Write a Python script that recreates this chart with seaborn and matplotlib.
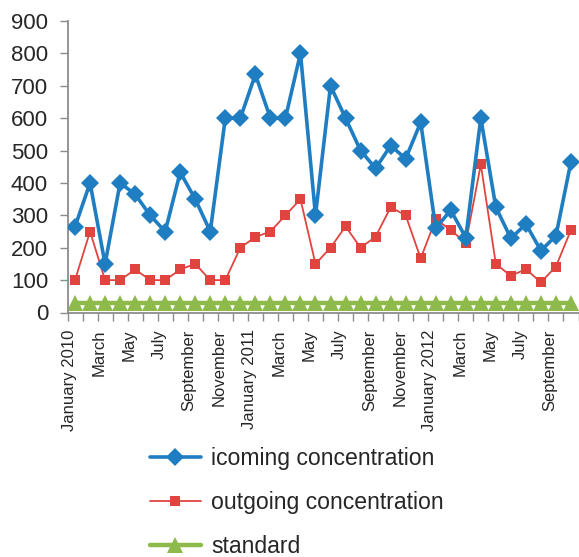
import numpy as np
import pandas as pd
import matplotlib
matplotlib.use("Agg")
import matplotlib.pyplot as plt
import matplotlib.transforms as mtransforms
import seaborn as sns

sns.set_style("white")
plt.rcParams["font.family"] = ["Liberation Sans", "DejaVu Sans"]

# Monthly series, January 2010 .. October 2012
months = pd.date_range("2010-01-01", "2012-10-01", freq="MS")
incoming = [265, 400, 150, 400, 365, 300, 250, 433, 350, 250, 600, 600,
            735, 600, 600, 800, 300, 700, 600, 500, 445, 515, 475, 587,
            260, 316, 231, 600, 325, 229, 273, 191, 237, 466]
outgoing = [100, 250, 100, 100, 133, 100, 100, 133, 150, 100, 100, 200,
            233, 250, 300, 350, 150, 200, 266, 200, 234, 325, 300, 167,
            288, 255, 214, 457, 150, 113, 134, 93, 142, 255]
standard = [30] * len(months)

month_names = ["January", "February", "March", "April", "May", "June", "July",
               "August", "September", "October", "November", "December"]
tick_labels = [(f"January {d.year}" if d.month == 1 else month_names[d.month - 1])
               for d in months[::2]]

pos = np.arange(len(months))
df = pd.DataFrame({"pos": pos, "incoming": incoming,
                   "outgoing": outgoing, "standard": standard})

fig = plt.figure(figsize=(5.79, 5.57), dpi=100)
ax = fig.add_axes([67.5 / 579, (557 - 312.5) / 557, 511 / 579, 291.5 / 557])

blue = "#1f7dc1"
red = "#e0443f"
green = "#8dba4a"

sns.lineplot(data=df, x="pos", y="standard", ax=ax, color=green, lw=3.2,
             marker="^", markersize=11, markeredgewidth=0,
             label="standard", zorder=2)
sns.lineplot(data=df, x="pos", y="outgoing", ax=ax, color=red, lw=1.3,
             marker="s", markersize=7, markeredgewidth=0,
             label="outgoing concentration", zorder=3)
sns.lineplot(data=df, x="pos", y="incoming", ax=ax, color=blue, lw=2.6,
             marker="D", markersize=9, markeredgewidth=0,
             label="icoming concentration", zorder=4)

ax.set_xlim(-0.5, len(months) - 0.5)
ax.set_ylim(0, 900)
ax.set_yticks(np.arange(0, 901, 100))
ax.set_xlabel("")
ax.set_ylabel("")

ax.set_xticks(pos[::2])
ax.set_xticklabels(tick_labels, rotation=90, fontsize=12, va="top")
ax.set_xticks(np.arange(-0.5, len(months)), minor=True)
ax.tick_params(axis="x", which="major", length=0, pad=12)
ax.tick_params(axis="x", which="minor", length=6, width=1, color="#8c8c8c",
               direction="out", bottom=True)
ax.tick_params(axis="y", length=6, width=1, color="#8c8c8c", direction="out",
               left=True, labelsize=16, pad=8)

shift = mtransforms.ScaledTranslation(-6 / 100, 0, fig.dpi_scale_trans)
for lbl in ax.get_xticklabels():
    lbl.set_transform(lbl.get_transform() + shift)

for side in ["top", "right"]:
    ax.spines[side].set_visible(False)
for side in ["left", "bottom"]:
    ax.spines[side].set_color("#8c8c8c")
    ax.spines[side].set_linewidth(1.3)

handles, labels = ax.get_legend_handles_labels()
order = [2, 1, 0]
ax.get_legend().remove()
fig.legend([handles[i] for i in order], [labels[i] for i in order],
           loc="upper left", bbox_to_anchor=(150 / 579, (557 - 447) / 557),
           frameon=False, fontsize=16.6, borderpad=0, borderaxespad=0,
           labelspacing=0.92, handlelength=2.2, handletextpad=0.45)

fig.savefig("out.png", dpi=100)
